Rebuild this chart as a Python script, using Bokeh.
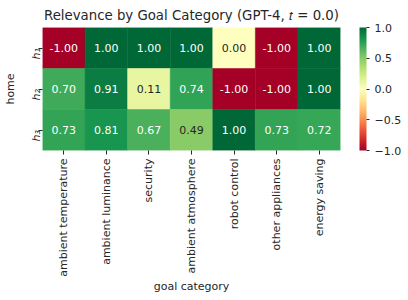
import math
import numpy as np
from bokeh.plotting import figure
from bokeh.models import ColumnDataSource, LinearColorMapper, ColorBar, FixedTicker
from bokeh.transform import transform
from bokeh.core.properties import value
from bokeh.embed import file_html
from bokeh.resources import INLINE

categories = ["ambient temperature", "ambient luminance", "security",
              "ambient atmosphere", "robot control", "other appliances", "energy saving"]
homes = ["h\u2081", "h\u2082", "h\u2083"]
h1_values = [-1.00, 1.00, 1.00, 1.00, 0.00, -1.00, 1.00]
h2_values = [0.70, 0.91, 0.11, 0.74, -1.00, -1.00, 1.00]
h3_values = [0.73, 0.81, 0.67, 0.49, 1.00, 0.73, 0.72]
cbar_ticks = [-1.0, -0.5, 0.0, 0.5, 1.0]

# matplotlib RdYlGn anchors
anchors = ["#a50026", "#d73027", "#f46d43", "#fdae61", "#fee08b", "#ffffbf",
           "#d9ef8b", "#a6d96a", "#66bd63", "#1a9850", "#006837"]

def hex2rgb(h):
    return np.array([int(h[i:i + 2], 16) for i in (1, 3, 5)], dtype=float)

A = np.array([hex2rgb(h) for h in anchors])
pos = np.linspace(0, 1, len(anchors))

def cmap(t):
    return np.array([np.interp(t, pos, A[:, k]) for k in range(3)])

palette = []
for t in np.linspace(0, 1, 256):
    r, g, b = cmap(t)
    palette.append("#%02x%02x%02x" % (int(round(r)), int(round(g)), int(round(b))))

def text_color(v):
    idx = int(np.clip(round((v + 1) / 2 * 255), 0, 255))
    rgb = hex2rgb(palette[idx]) / 255.0
    lin = np.where(rgb <= 0.03928, rgb / 12.92, ((rgb + 0.055) / 1.055) ** 2.4)
    lum = 0.2126 * lin[0] + 0.7152 * lin[1] + 0.0722 * lin[2]
    return "#262626" if lum > 0.408 else "white"

xs, ys, vals, labels, tcols = [], [], [], [], []
for h, row in zip(homes, [h1_values, h2_values, h3_values]):
    for c, v in zip(categories, row):
        xs.append(c)
        ys.append(h)
        vals.append(v)
        labels.append("%.2f" % v)
        tcols.append(text_color(v))

src = ColumnDataSource(dict(x=xs, y=ys, v=vals, label=labels, tc=tcols))
mapper = LinearColorMapper(palette=palette, low=-1, high=1)

FONT = "DejaVu Sans"
p = figure(x_range=categories, y_range=list(reversed(homes)),
           frame_width=298, frame_height=123,
           toolbar_location=None, output_backend="svg",
           title="Relevance by Goal Category (GPT-4, \U0001D461 = 0.0)",
           min_border_left=34, min_border_top=17, min_border_right=0, min_border_bottom=0)

p.rect(x="x", y="y", width=1, height=1, source=src,
       fill_color=transform("v", mapper), line_color=transform("v", mapper), line_width=0.5)
p.text(x="x", y="y", text="label", source=src, text_color="tc",
       text_align="center", text_baseline="middle",
       text_font=value(FONT), text_font_size="11px")

p.title.text_font = FONT
p.title.text_font_size = "13.3px"
p.title.text_font_style = "normal"
p.title.align = "center"
p.title.text_color = "#262626"

p.grid.grid_line_color = None
p.outline_line_color = None
for ax in (p.xaxis[0], p.yaxis[0]):
    ax.axis_line_color = None
    ax.major_tick_in = 0
    ax.major_tick_out = 4
    ax.major_tick_line_color = "#262626"
    ax.minor_tick_line_color = None
    ax.major_label_text_font = FONT
    ax.major_label_text_font_size = "11px"
    ax.major_label_text_color = "#262626"
    ax.major_label_standoff = 2
    ax.axis_label_text_font = FONT
    ax.axis_label_text_font_size = "11px"
    ax.axis_label_text_font_style = "normal"
    ax.axis_label_text_color = "#262626"
    ax.axis_label_standoff = 4

p.xaxis.major_label_orientation = math.pi / 2
p.xaxis.major_label_standoff = 4
p.xaxis.axis_label_standoff = 0
p.xaxis.axis_label = "goal category"
p.yaxis.major_label_orientation = math.pi / 2
p.yaxis.major_label_text_font_style = "italic"
p.yaxis.axis_label = "home"

cb = ColorBar(color_mapper=mapper, width=7, height=123,
              ticker=FixedTicker(ticks=cbar_ticks),
              major_label_overrides={-1.0: "\u22121.0", -0.5: "\u22120.5", 0.0: "0.0", 0.5: "0.5", 1.0: "1.0"},
              major_label_text_font=FONT, major_label_text_font_size="11px",
              major_label_text_color="#262626",
              major_tick_in=0, major_tick_out=3, major_tick_line_color="#262626",
              minor_tick_line_color=None, bar_line_color=None,
              padding=0, margin=0, location=(19, 0))
p.add_layout(cb, "right")

open("out.html", "w").write(file_html(p, INLINE))
